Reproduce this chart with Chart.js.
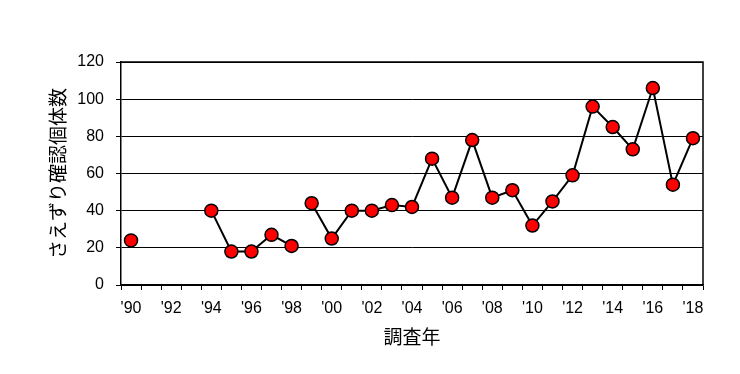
<!DOCTYPE html>
<html>
<head>
<meta charset="utf-8">
<script src="https://cdn.jsdelivr.net/npm/chart.js@4/dist/chart.umd.min.js"></script>
<style>
  html, body { margin: 0; padding: 0; background: #fff; }
  #wrap { width: 740px; height: 374px; }
</style>
</head>
<body>
<div id="wrap"><canvas id="c"></canvas></div>
<script>
// survey years 1990-2018, label every other year
var years = ["'90", "'91", "'92", "'93", "'94", "'95", "'96", "'97", "'98", "'99",
             "'00", "'01", "'02", "'03", "'04", "'05", "'06", "'07", "'08", "'09",
             "'10", "'11", "'12", "'13", "'14", "'15", "'16", "'17", "'18"];
// さえずり確認個体数 (null = no survey)
var counts = [24, null, null, null, 40, 18, 18, 27, 21, 44,
              25, 40, 40, 43, 42, 68, 47, 78, 47, 51,
              32, 45, 59, 96, 85, 73, 106, 54, 79];
// no line drawn between these two years
var breakAfter = ["'98"];
var yTicks = [0, 20, 40, 60, 80, 100, 120];

var tickFont = { family: "'Liberation Sans', Arial, sans-serif", size: 16 };
var jpFont = { family: "'Noto Sans CJK JP', sans-serif", size: 19 };

new Chart(document.getElementById('c').getContext('2d'), {
  type: 'line',
  data: {
    labels: years,
    datasets: [{
      data: counts,
      borderColor: '#000',
      borderWidth: 2,
      backgroundColor: '#ff0000',
      pointBackgroundColor: '#ff0000',
      pointBorderColor: '#000',
      pointBorderWidth: 1.5,
      pointRadius: 6.5,
      spanGaps: false,
      tension: 0,
      segment: {
        borderColor: function(ctx) {
          return breakAfter.indexOf(years[ctx.p0DataIndex]) >= 0 ? 'rgba(0,0,0,0)' : '#000';
        }
      }
    }]
  },
  options: {
    responsive: true,
    maintainAspectRatio: false,
    animation: false,
    layout: { padding: { left: 42, right: 37, top: 62, bottom: 22 } },
    plugins: { legend: { display: false }, tooltip: { enabled: false } },
    scales: {
      x: {
        offset: true,
        border: { color: '#000', width: 1.5 },
        grid: { offset: true, drawOnChartArea: false, color: '#000', tickLength: 5, lineWidth: 1 },
        ticks: {
          color: '#000', font: tickFont, maxRotation: 0, autoSkip: false, padding: 9,
          callback: function(v, i) { return i % 2 === 0 ? years[i] : ''; }
        },
        title: { display: true, text: '調査年', color: '#000', font: jpFont, padding: { top: 4, bottom: 4 } },
        afterFit: function(s) { s.height = 67; }
      },
      y: {
        min: 0, max: 120,
        afterBuildTicks: function(s) { s.ticks = yTicks.map(function(v) { return { value: v }; }); },
        border: { color: '#000', width: 1.5 },
        grid: { color: '#000', lineWidth: 1, tickLength: 5 },
        ticks: { color: '#000', font: tickFont, padding: 12 },
        title: { display: true, text: 'さえずり確認個体数', color: '#000', font: jpFont, padding: { top: 4, bottom: 10 } },
        afterFit: function(s) { s.width = 79; }
      }
    }
  },
  plugins: [{
    id: 'frame',
    afterDraw: function(chart) {
      var a = chart.chartArea, c = chart.ctx;
      c.save();
      c.strokeStyle = '#000';
      c.lineWidth = 1.5;
      c.beginPath();
      c.moveTo(a.left, a.top);
      c.lineTo(a.right, a.top);
      c.lineTo(a.right, a.bottom);
      c.stroke();
      c.restore();
    }
  }]
});
</script>
</body>
</html>
